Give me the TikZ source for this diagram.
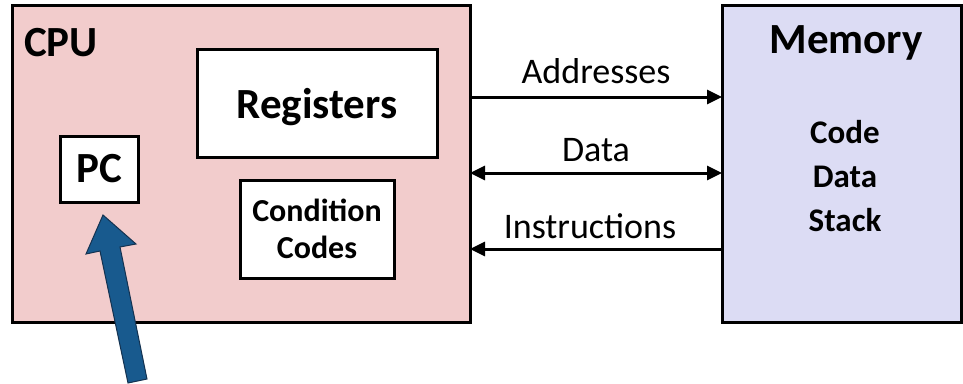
\documentclass[tikz,border=0pt]{standalone}
\usepackage{fontspec}
\setmainfont{Carlito}
\usetikzlibrary{arrows.meta}
\definecolor{cpufill}{RGB}{242,204,204}
\definecolor{memfill}{RGB}{220,220,244}
\definecolor{pcblue}{RGB}{24,90,142}
\definecolor{pcedge}{RGB}{20,50,80}
\tikzset{
  box/.style={draw=black, line width=3pt, fill=white},
  bigbox/.style={draw=black, line width=3pt},
  conn/.style={line width=3pt, -{Triangle[width=14pt,length=15pt]}},
  conn2/.style={line width=3pt, {Triangle[width=14pt,length=15pt]}-{Triangle[width=14pt,length=15pt]}},
  lbl/.style={font=\fontsize{36}{40}\selectfont, inner sep=0pt},
  btxt/.style={font=\fontsize{43}{48}\selectfont\bfseries, inner sep=0pt},
}
\begin{document}
\begin{tikzpicture}[x=1pt,y=-1pt]
\useasboundingbox (0,0) rectangle (963,383);
% CPU
\draw[bigbox, fill=cpufill] (12,5) rectangle (470,322);
\node[btxt, anchor=west] (cpulbl) at (24,43) {CPU};
\node[box, minimum width=240pt, minimum height=108pt, btxt, text depth=0pt] (reg) at (317,103) {Registers};
\node[box, minimum width=78pt, minimum height=66pt, btxt] (pc) at (99,169) {PC};
\node[box, minimum width=154pt, minimum height=98pt, align=center, font=\fontsize{32}{37}\selectfont\bfseries] (cc) at (317,229) {Condition\\Codes};
% Memory
\draw[bigbox, fill=memfill] (722,5) rectangle (961,322);
\node[btxt] (memlbl) at (846,43) {Memory};
\node[align=center, font=\fontsize{33}{44}\selectfont\bfseries, inner sep=0pt] (memc) at (845,176) {Code\\Data\\Stack};
% connectors
\coordinate (a1) at (470,97);
\coordinate (a2) at (722,97);
\coordinate (d1) at (470,173);
\coordinate (d2) at (722,173);
\coordinate (i1) at (470,249);
\coordinate (i2) at (722,249);
\draw[conn] (a1) -- (a2);
\draw[conn2] (d1) -- (d2);
\draw[conn] (i2) -- (i1);
\node[lbl] (alab) at (596,71) {Addresses};
\node[lbl] (dlab) at (596,150) {Data};
\node[lbl] (ilab) at (590,226) {Instructions};
% PC arrow
\draw[fill=pcblue, draw=pcedge, line width=1pt, line join=miter]
  (128,383) -- (147,379) -- (120,247) -- (136,244) -- (103,215) -- (86,254) -- (100,251) -- cycle;
\end{tikzpicture}
\end{document}
